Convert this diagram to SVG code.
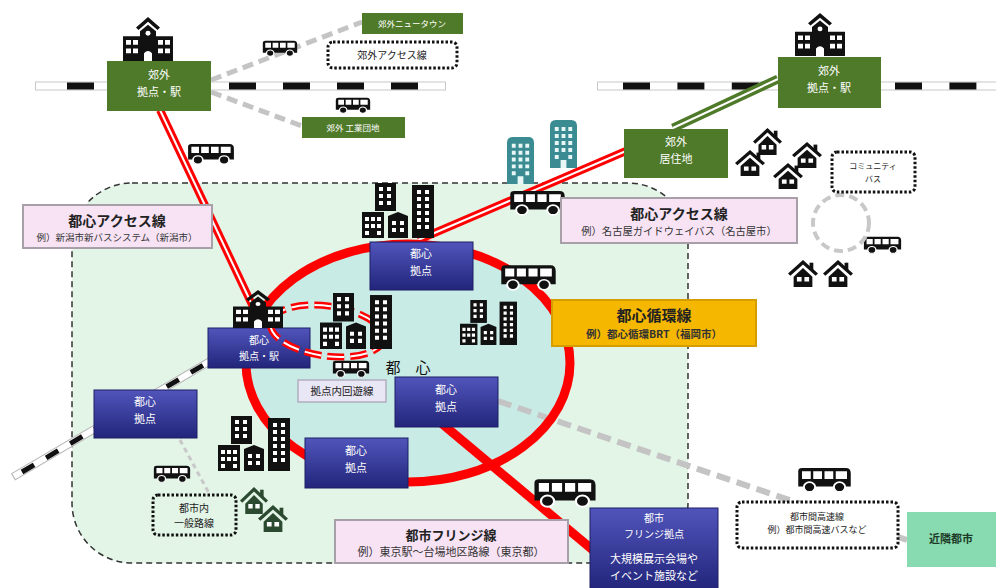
<svg xmlns="http://www.w3.org/2000/svg" width="996" height="588" viewBox="0 0 996 588">
<style>
  text{font-family:'Noto Sans CJK JP','Noto Sans CJK SC',sans-serif;text-anchor:middle}
  .w11{fill:#fff;font-size:11px}
  .w10{fill:#fff;font-size:10px}
  .w9{fill:#fff;font-size:8.5px}
  .blue{fill:url(#blueGrad);stroke:#1c1f66;stroke-width:1}
  .green{fill:#4f7a2a}
  .pink{fill:#f8e3f5;stroke:#a8a0a8;stroke-width:2}
  .dot{fill:#fff;stroke:#111;stroke-width:3;stroke-dasharray:2.5 2}
  .ttl{font-weight:bold;fill:#222}
  .sub{fill:#333}
  .dk{fill:#222}
  .gdash{fill:none;stroke:#c4c4c4;stroke-width:5;stroke-dasharray:11 6}
</style>
<defs>
  <linearGradient id="blueGrad" x1="0" y1="0" x2="0" y2="1">
    <stop offset="0" stop-color="#5155bb"/>
    <stop offset="1" stop-color="#22257a"/>
  </linearGradient>
  <symbol id="bus" viewBox="0 0 44 24" preserveAspectRatio="none">
    <path d="M4 1 H39 Q43 1 43 6 V18 H1 V4 Q1 1 4 1 Z" fill="#111"/>
    <path d="M4 4h7v7h-7z M13 4h7v7h-7z M22 4h7v7h-7z M31 4h9v7h-9z" fill="#fff"/>
    <circle cx="10" cy="18.5" r="4.5" fill="#111" stroke="#fff" stroke-width="1.5"/>
    <circle cx="34" cy="18.5" r="4.5" fill="#111" stroke="#fff" stroke-width="1.5"/>
  </symbol>
  <symbol id="bld" viewBox="0 0 72 55" preserveAspectRatio="none">
    <rect x="13" y="0" width="21" height="28" fill="#111"/>
    <rect x="0" y="29" width="22" height="26" fill="#111"/>
    <path d="M26 33 L36 29 L46 33 V55 H26Z" fill="#111"/>
    <rect x="50" y="2" width="22" height="53" fill="#111"/>
    <path fill="#fff" d="M17 4h4v4h-4z M25 4h4v4h-4z M17 11h4v4h-4z M25 11h4v4h-4z M17 18h4v4h-4z M25 18h4v4h-4z
      M3 34h4v4h-4z M9 34h4v4h-4z M15 34h4v4h-4z M3 41h4v4h-4z M9 41h4v4h-4z M15 41h4v4h-4z M3 48h4v4h-4z M15 48h4v4h-4z
      M30 38h4v4h-4z M38 38h4v4h-4z M30 45h4v4h-4z M38 45h4v4h-4z
      M55 7h4v4h-4z M63 7h4v4h-4z M55 14h4v4h-4z M63 14h4v4h-4z M55 21h4v4h-4z M63 21h4v4h-4z
      M55 28h4v4h-4z M63 28h4v4h-4z M55 35h4v4h-4z M63 35h4v4h-4z M55 42h4v4h-4z M63 42h4v4h-4z"/>
  </symbol>
  <symbol id="tbld" viewBox="0 0 28 48" preserveAspectRatio="none">
    <path d="M0 6 Q0 0 6 0 H22 Q28 0 28 6 V48 H0Z" fill="#3a8c92"/>
    <path fill="#e8f6f6" d="M5 7h4v4h-4z M12 7h4v4h-4z M19 7h4v4h-4z M5 14h4v4h-4z M12 14h4v4h-4z M19 14h4v4h-4z
      M5 21h4v4h-4z M12 21h4v4h-4z M19 21h4v4h-4z M5 28h4v4h-4z M12 28h4v4h-4z M19 28h4v4h-4z
      M5 35h4v4h-4z M19 35h4v4h-4z M11 40h6v8h-6z"/>
  </symbol>
  <symbol id="school" viewBox="0 0 50 46" preserveAspectRatio="none">
    <path d="M25 0 L37 11 L34.5 13.5 L25 5 L15.5 13.5 L13 11Z" fill="#111"/>
    <path d="M25 8 L33 15 V20 H50 V46 H0 V20 H17 V15Z" fill="#111"/>
    <path fill="#fff" d="M3 24h5v5h-5z M10 24h5v5h-5z M3 33h5v5h-5z M10 33h5v5h-5z
      M35 24h5v5h-5z M42 24h5v5h-5z M35 33h5v5h-5z M42 33h5v5h-5z M21 46 V38 Q25 33 29 38 V46Z"/>
    <circle cx="25" cy="17" r="2.5" fill="#fff"/>
  </symbol>
  <symbol id="house" viewBox="0 0 32 30" preserveAspectRatio="none">
    <path d="M16 0 L32 15 L29.5 17.5 L16 5 L2.5 17.5 L0 15Z" fill="currentColor"/>
    <rect x="23" y="3" width="4" height="8" fill="currentColor"/>
    <path d="M16 9 L26 18.5 V30 H6 V18.5Z" fill="currentColor"/>
    <path d="M9.5 19h5v5h-5z M17.5 19h5v5h-5z" fill="#fff"/>
  </symbol>
</defs>

<rect width="996" height="588" fill="#fff"/>

<!-- city area and downtown ring background -->
<path d="M132 183 H628 A60 60 0 0 1 688 243 V503 A60 60 0 0 1 628 563 H132 A60 60 0 0 1 72 503 V243 A60 60 0 0 1 132 183 Z" fill="#e3f5e7" stroke="#333" stroke-width="1.5" stroke-dasharray="6 4"/>
<ellipse cx="408" cy="363" rx="162" ry="119" fill="#c9ebe6"/>

<g id="connectors">
  <!-- suburban access (gray dashed) -->
  <line class="gdash" x1="211" y1="80" x2="362" y2="22"/>
  <line class="gdash" x1="211" y1="92" x2="302" y2="126"/>
  <line x1="180" y1="440" x2="210" y2="495" stroke="#c8c8c8" stroke-width="3" stroke-dasharray="5 4"/>
  <line x1="498" y1="401" x2="907" y2="540" stroke="#c4c4c4" stroke-width="6" stroke-dasharray="14 7"/>
  <!-- rail tracks -->
  <g>
    <line x1="35" y1="86" x2="446" y2="86" stroke="#c8c8c8" stroke-width="9"/>
    <line x1="36" y1="86" x2="445" y2="86" stroke="#fff" stroke-width="7"/>
    <line x1="67" y1="86" x2="418" y2="86" stroke="#111" stroke-width="7" stroke-dasharray="27 27"/>
    <line x1="597" y1="86" x2="996" y2="86" stroke="#c8c8c8" stroke-width="9"/>
    <line x1="598" y1="86" x2="996" y2="86" stroke="#fff" stroke-width="7"/>
    <line x1="623" y1="86" x2="996" y2="86" stroke="#111" stroke-width="7" stroke-dasharray="27 27.4"/>
    <line x1="13" y1="477" x2="212" y2="360" stroke="#b8b8b8" stroke-width="8"/>
    <line x1="14" y1="476.4" x2="212" y2="360" stroke="#fff" stroke-width="6"/>
    <line x1="22" y1="472" x2="212" y2="360" stroke="#111" stroke-width="5" stroke-dasharray="14 14"/>
  </g>
  <!-- suburban trunk (green double) -->
  <line x1="673" y1="128" x2="778" y2="79" stroke="#4f7a2a" stroke-width="9"/>
  <line x1="673" y1="128" x2="778" y2="79" stroke="#fff" stroke-width="2"/>
  <!-- downtown access (red double) -->
  <line x1="160" y1="110" x2="264" y2="330" stroke="#f00" stroke-width="8"/>
  <line x1="160" y1="110" x2="264" y2="330" stroke="#fff" stroke-width="2"/>
  <line x1="418" y1="240" x2="626" y2="151" stroke="#f00" stroke-width="8"/>
  <line x1="418" y1="240" x2="626" y2="151" stroke="#fff" stroke-width="2"/>
  <!-- downtown loop -->
  <ellipse cx="408" cy="363" rx="162" ry="119" fill="none" stroke="#f00" stroke-width="9"/>
  <!-- fringe line -->
  <line x1="440" y1="422" x2="600" y2="556" stroke="#f00" stroke-width="9"/>
</g>

<!-- suburban nodes -->
<g id="sub-station-w"><rect class="green" x="107" y="61" width="104" height="50"/><text class="w11" x="159" y="79">郊外</text><text class="w11" x="159" y="96">拠点・駅</text></g>
<g id="sub-station-e"><rect class="green" x="778" y="57" width="103" height="51"/><text class="w11" x="829" y="75">郊外</text><text class="w11" x="829" y="92">拠点・駅</text></g>
<g id="sub-residence"><rect class="green" x="624" y="129" width="104" height="49"/><text class="w11" x="676" y="146">郊外</text><text class="w11" x="676" y="163">居住地</text></g>
<g id="sub-newtown"><rect class="green" x="362" y="13" width="101" height="21"/><text class="w9" x="412" y="27">郊外ニュータウン</text></g>
<g id="sub-industrial"><rect class="green" x="302" y="117" width="103" height="21"/><text class="w9" x="353" y="131">郊外 工業団地</text></g>
<g id="sub-access"><rect class="dot" x="328" y="42" width="129" height="26" rx="5"/><text class="dk" x="392" y="59" font-size="10">郊外アクセス線</text></g>

<!-- downtown nodes -->
<g id="hub-n"><rect class="blue" x="370" y="242" width="103" height="48"/><text class="w11" x="421" y="258">都心</text><text class="w11" x="421" y="275">拠点</text></g>
<g id="hub-station"><rect class="blue" x="208" y="328" width="102" height="40"/><text class="w10" x="259" y="344">都心</text><text class="w10" x="259" y="360">拠点・駅</text></g>
<g id="hub-w"><rect class="blue" x="94" y="390" width="103" height="48"/><text class="w11" x="145" y="406">都心</text><text class="w11" x="145" y="423">拠点</text></g>
<g id="hub-e"><rect class="blue" x="395" y="377" width="103" height="50"/><text class="w11" x="446" y="394">都心</text><text class="w11" x="446" y="411">拠点</text></g>
<g id="hub-s"><rect class="blue" x="305" y="438" width="103" height="50"/><text class="w11" x="356" y="455">都心</text><text class="w11" x="356" y="472">拠点</text></g>
<g id="fringe-hub"><rect class="blue" x="590" y="508" width="128" height="82"/>
  <text class="w10" x="654" y="522">都市</text><text class="w10" x="654" y="538">フリンジ拠点</text>
  <text fill="#fff" font-size="11" x="654" y="563">大規模展示会場や</text><text fill="#fff" font-size="11" x="654" y="580">イベント施設など</text></g>

<!-- in-hub circulation loop -->
<g id="hub-loop">
  <ellipse cx="327" cy="331" rx="57" ry="25" transform="rotate(8 327 331)" fill="none" stroke="#f00" stroke-width="7" stroke-dasharray="17 6"/>
  <ellipse cx="327" cy="331" rx="57" ry="25" transform="rotate(8 327 331)" fill="none" stroke="#fff" stroke-width="2" stroke-dasharray="17 6"/>
</g>

<!-- icons -->
<g id="icons">
  <use href="#school" x="123" y="17" width="50" height="44"/>
  <use href="#school" x="795" y="13" width="50" height="43"/>
  <use href="#school" x="233" y="290" width="50" height="38"/>
  <use href="#bld" x="362" y="183" width="72" height="55"/>
  <use href="#bld" x="320" y="293" width="72" height="56"/>
  <use href="#bld" x="460" y="300" width="57" height="45"/>
  <use href="#bld" x="218" y="416" width="72" height="55"/>
  <use href="#tbld" x="507" y="137" width="27" height="47"/>
  <use href="#tbld" x="550" y="120" width="27" height="48"/>
  <use href="#house" color="#111" x="753" y="128" width="29" height="27"/>
  <use href="#house" color="#111" x="735" y="150" width="30" height="26"/>
  <use href="#house" color="#111" x="792" y="142" width="30" height="26"/>
  <use href="#house" color="#111" x="773" y="163" width="30" height="26"/>
  <use href="#house" color="#111" x="788" y="260" width="30" height="27"/>
  <use href="#house" color="#111" x="823" y="260" width="30" height="27"/>
  <use href="#house" color="#2c4a30" x="240" y="487" width="28" height="27"/>
  <use href="#house" color="#2c4a30" x="258" y="505" width="30" height="27"/>
  <use href="#bus" x="262" y="40" width="36" height="17"/>
  <use href="#bus" x="335" y="97" width="36" height="17"/>
  <use href="#bus" x="187" y="143" width="48" height="22"/>
  <use href="#bus" x="509" y="190" width="57" height="26"/>
  <use href="#bus" x="500" y="264" width="57" height="27"/>
  <use href="#bus" x="332" y="360" width="38" height="18"/>
  <use href="#bus" x="533" y="478" width="64" height="30"/>
  <use href="#bus" x="153" y="465" width="38" height="18"/>
  <use href="#bus" x="797" y="467" width="55" height="26"/>
  <use href="#bus" x="863" y="236" width="39" height="18"/>
  <circle cx="841" cy="223" r="28" fill="none" stroke="#c8c8c8" stroke-width="4" stroke-dasharray="9 5"/>
</g>

<text x="408" y="373" font-size="15" fill="#111">都　心</text>

<!-- line labels -->
<g id="label-access-w"><rect class="pink" x="23" y="205" width="189" height="43"/>
  <text class="ttl" font-size="14" x="117" y="226">都心アクセス線</text>
  <text class="sub" font-size="9.5" x="117" y="241">例）新潟市新バスシステム（新潟市）</text></g>
<g id="label-access-e"><rect class="pink" x="561" y="198" width="236" height="45"/>
  <text class="ttl" font-size="14" x="679" y="219">都心アクセス線</text>
  <text class="sub" font-size="10.3" x="679" y="235">例）名古屋ガイドウェイバス（名古屋市）</text></g>
<g id="label-loop"><rect x="552" y="300" width="204" height="46" fill="#f5b700" stroke="#d59d00" stroke-width="2"/>
  <text class="ttl" font-size="15" x="654" y="321">都心循環線</text>
  <text class="sub" font-size="10.5" font-weight="bold" x="654" y="338">例）都心循環BRT（福岡市）</text></g>
<g id="label-hub-loop"><rect x="298" y="380" width="88" height="22" fill="#e9e6f6" stroke="#b0aec0" stroke-width="1.5"/>
  <text class="dk" font-size="10.5" x="342" y="395">拠点内回遊線</text></g>
<g id="label-fringe"><rect class="pink" x="335" y="520" width="233" height="43"/>
  <text class="ttl" font-size="13" x="451" y="540">都市フリンジ線</text>
  <text class="sub" font-size="11" x="451" y="556">例）東京駅～台場地区路線（東京都）</text></g>
<g id="label-community"><rect class="dot" x="832" y="152" width="83" height="40" rx="5"/>
  <text class="dk" font-size="8" x="873" y="169">コミュニティ</text><text class="dk" font-size="8" x="873" y="182">バス</text></g>
<g id="label-local"><rect class="dot" x="153" y="495" width="83" height="40" rx="5" style="fill:none"/>
  <text class="dk" font-size="10" x="194" y="512">都市内</text><text class="dk" font-size="10" x="194" y="527">一般路線</text></g>
<g id="label-intercity"><rect class="dot" x="737" y="502" width="161" height="46" rx="5"/>
  <text class="dk" font-size="9" x="817" y="520">都市間高速線</text><text class="dk" font-size="9" x="817" y="533">例）都市間高速バスなど</text></g>
<g id="neighbor-city"><rect x="907" y="512" width="89" height="55" fill="#88dbb0"/>
  <text x="951" y="543" font-size="11" font-weight="bold" fill="#1d3b28">近隣都市</text></g>
</svg>
